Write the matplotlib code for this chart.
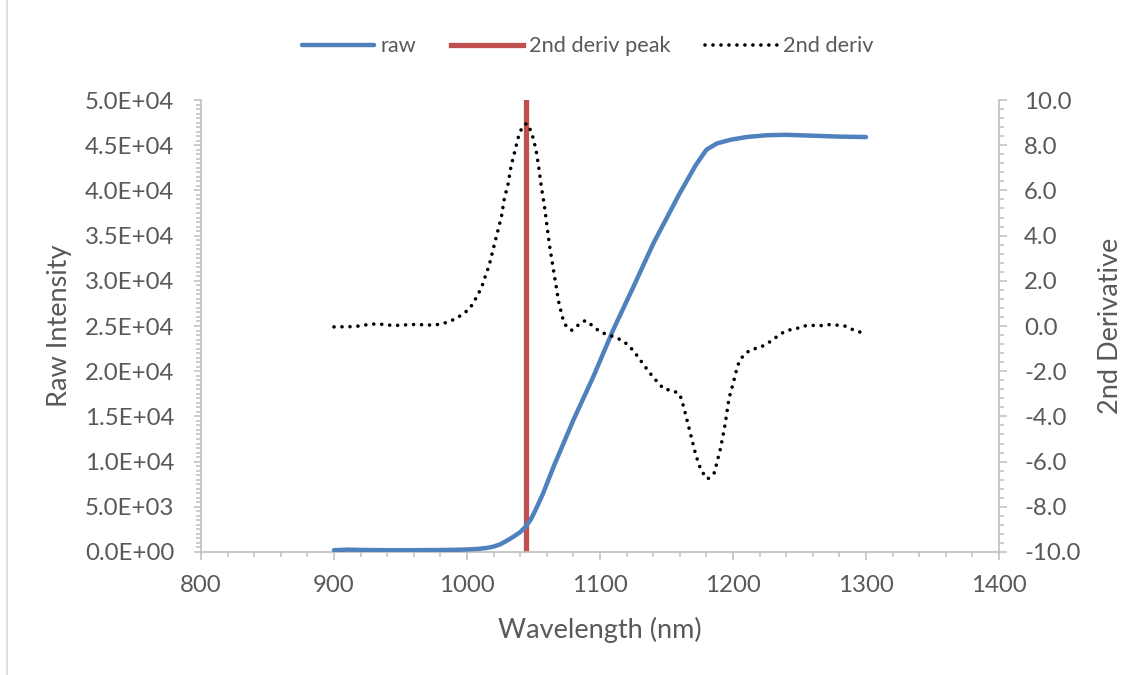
import matplotlib
matplotlib.use("Agg")
import matplotlib.pyplot as plt
from matplotlib.ticker import MultipleLocator, FormatStrFormatter, FuncFormatter

plt.rcParams['font.family'] = ['Lato', 'DejaVu Sans']

# ---- data ----
raw_nm = [900, 910, 920, 940, 960, 980, 990, 1000, 1008, 1015, 1020, 1025, 1030, 1035,
          1040, 1044, 1048, 1052, 1057, 1065, 1080, 1095, 1110, 1125, 1140, 1160, 1172,
          1180, 1188, 1198, 1210, 1225, 1240, 1260, 1280, 1300]
raw_val = [200, 260, 230, 200, 200, 220, 240, 280, 340, 450, 600, 850, 1250, 1700,
           2200, 2800, 3600, 4800, 6400, 9400, 14600, 19400, 24600, 29300, 34100, 39700, 42800,
           44500, 45200, 45600, 45900, 46100, 46150, 46050, 45950, 45900]

d2_nm = [900, 912, 919, 925, 931, 937, 943, 949, 956, 962, 968, 974, 980, 986, 992,
         997, 1002, 1005, 1008, 1011, 1013, 1015, 1017, 1020, 1023, 1026, 1028, 1031,
         1033, 1036, 1039, 1041.5, 1043.5, 1045.5, 1048, 1050, 1052, 1054, 1056, 1058,
         1060, 1062, 1064, 1066, 1067, 1068, 1069, 1070.5, 1072, 1074.5, 1077, 1079,
         1082, 1085, 1089, 1094, 1099, 1104, 1110, 1116, 1121, 1125, 1129, 1133, 1140,
         1148, 1155, 1160, 1163, 1166, 1169, 1172, 1176, 1181, 1186, 1190.5, 1194, 1197,
         1200, 1201.5, 1203, 1205, 1209, 1214, 1220, 1226, 1231, 1236, 1241, 1247, 1253,
         1259, 1265, 1272, 1278, 1284, 1290, 1296]
d2_val = [-0.04, -0.03, 0.0, 0.06, 0.09, 0.07, 0.03, 0.03, 0.06, 0.07, 0.05, 0.04, 0.08,
          0.18, 0.34, 0.53, 0.77, 1.05, 1.37, 1.71, 2.07, 2.40, 2.76, 3.47, 4.17, 4.88,
          5.61, 6.31, 7.04, 7.74, 8.45, 8.79, 8.93, 8.95, 8.63, 8.27, 7.75, 7.0, 6.12,
          5.40, 4.50, 3.58, 2.85, 2.12, 1.77, 1.40, 1.05, 0.69, 0.34, 0.0, -0.15, -0.19,
          -0.05, 0.12, 0.24, 0.03, -0.21, -0.35, -0.47, -0.62, -0.83, -1.09, -1.40, -1.73,
          -2.27, -2.79, -2.86, -3.02, -3.6, -4.3, -5.0, -5.7, -6.4, -6.77, -6.49, -5.44,
          -4.38, -3.20, -2.57, -2.21, -1.86, -1.52, -1.23, -1.03, -0.96, -0.77, -0.56,
          -0.34, -0.19, -0.13, 0.0, 0.03, 0.01, 0.06, 0.04, 0.0, -0.16, -0.28]

peak_nm = 1044.5
peak_range = [0, 50000]

# ---- styling ----
BLUE = '#4F81BD'
RED = '#C0504D'
AX = '#BFBFBF'
TXT = '#595959'

W, H = 1145, 675
fig = plt.figure(figsize=(W / 100, H / 100), dpi=100)
x0, x1, y0, y1 = 201, 999, 100, 552
ax = fig.add_axes([x0 / W, 1 - y1 / H, (x1 - x0) / W, (y1 - y0) / H])
ax2 = ax.twinx()

ax.plot(raw_nm, raw_val, color=BLUE, lw=3.2, solid_capstyle='round', label='raw', zorder=3)
ax.plot([peak_nm, peak_nm], peak_range, color=RED, lw=3.8, label='2nd deriv peak', zorder=2)
ax2.plot(d2_nm, d2_val, color='black', lw=2.6, linestyle=(0, (0.01, 2.2)),
         dash_capstyle='round', label='2nd deriv')

ax.set_xlim(800, 1400)
ax.set_ylim(0, 50000)
ax2.set_ylim(-10, 10)

ax.xaxis.set_major_locator(MultipleLocator(100))
ax.xaxis.set_minor_locator(MultipleLocator(20))
ax.yaxis.set_major_locator(MultipleLocator(5000))
ax.yaxis.set_minor_locator(MultipleLocator(500))
ax2.yaxis.set_major_locator(MultipleLocator(2))
ax2.yaxis.set_minor_locator(MultipleLocator(0.4))

def sci(v, pos):
    return '%.1E' % v
ax.yaxis.set_major_formatter(FuncFormatter(sci))
ax2.yaxis.set_major_formatter(FormatStrFormatter('%.1f'))

for a in (ax, ax2):
    a.spines['top'].set_visible(False)
    for side in ('left', 'right', 'bottom'):
        a.spines[side].set_color(AX)
        a.spines[side].set_linewidth(1.2)
    a.tick_params(which='major', length=5.4, width=1.1, color=AX, labelcolor=TXT, labelsize=17.3)
    a.tick_params(which='minor', length=3.6, width=1.1, color=AX)
ax.spines['right'].set_visible(False)
ax2.spines['left'].set_visible(False)
ax2.spines['bottom'].set_visible(False)
ax.tick_params(axis='y', pad=14)
ax.tick_params(axis='x', pad=11.2)
ax2.tick_params(axis='y', pad=12.6)

ax.set_xlabel('Wavelength (nm)', color=TXT, fontsize=19.5)
ax.set_ylabel('Raw Intensity', color=TXT, fontsize=19.5, labelpad=9)
ax2.set_ylabel('2nd Derivative', color=TXT, fontsize=19.5,
               rotation_mode='anchor', ha='center', va='center')
ax.xaxis.label.set_va('center')
ax.xaxis.set_label_coords(0.5, (y1 - 630) / (y1 - y0))
ax2.yaxis.set_label_coords((1110 - x0) / (x1 - x0), 0.5)

h1, l1 = ax.get_legend_handles_labels()
h2, l2 = ax2.get_legend_handles_labels()
leg = fig.legend(h1 + h2, l1 + l2, loc='center', bbox_to_anchor=(588 / W, 1 - 46.5 / H),
                 ncol=3, frameon=False, fontsize=15.7, handlelength=3.3,
                 columnspacing=1.6, handletextpad=0.27)
for t in leg.get_texts():
    t.set_color(TXT)

# chart-area border (left edge visible in the reference)
fig.add_artist(plt.Line2D([7 / W, 7 / W], [0, 1], transform=fig.transFigure,
                          color='#D9D9D9', lw=1.2))

fig.savefig('out.png', dpi=100)
